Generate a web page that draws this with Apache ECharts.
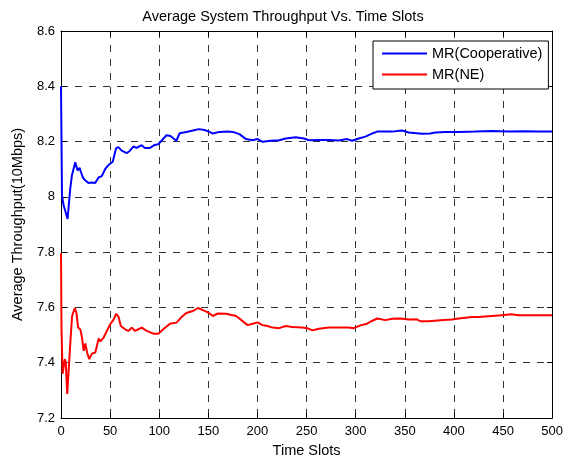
<!DOCTYPE html>
<html><head><meta charset="utf-8">
<script src="https://cdn.jsdelivr.net/npm/echarts@6/dist/echarts.min.js"></script>
<style>html,body{margin:0;padding:0;background:#fff}#c{width:566px;height:463px}</style>
</head><body><div id="c"></div>
<script>
var titleText = 'Average System Throughput Vs. Time Slots';
var xName = 'Time Slots';
var yName = 'Average Throughput(10Mbps)';
var seriesNames = ['MR(Cooperative)', 'MR(NE)'];

var blueX = [0,1,2.6,4.3,6.7,9.4,11.1,14.5,16.9,18.9,20.3,22.3,24.6,28,31.4,34.8,38.2,41.5,44.9,48.3,52.7,56,58.4,61.8,66.8,70.2,73.6,77,82,85.4,90.5,95.5,98.9,102.3,107.4,111.4,117.4,120.8,127.6,134.3,140.4,146.2,151.2,154.6,161.3,169.8,174.9,181.6,188.4,195.1,200.2,205.2,213.6,222.1,228.8,239,247.4,252.4,262.5,272.6,282.8,291.2,296.3,303.1,309.8,316.6,321.9,337,347.2,354,367.5,375.9,381,391.1,404.6,421.5,438.4,455.3,472.2,485.7,500];
var blueY = [8.40,8.005,7.97,7.95,7.92,8.03,8.077,8.125,8.095,8.105,8.09,8.07,8.06,8.05,8.052,8.05,8.07,8.075,8.10,8.115,8.127,8.175,8.18,8.167,8.158,8.167,8.182,8.177,8.187,8.177,8.177,8.188,8.19,8.203,8.223,8.22,8.203,8.23,8.235,8.24,8.245,8.242,8.235,8.229,8.235,8.236,8.235,8.227,8.209,8.205,8.209,8.199,8.203,8.205,8.211,8.216,8.211,8.205,8.206,8.206,8.204,8.209,8.203,8.211,8.218,8.229,8.236,8.236,8.24,8.233,8.228,8.229,8.233,8.235,8.235,8.236,8.238,8.236,8.237,8.236,8.236];

var redX = [0,0.5,1.6,2.9,3.9,4.9,6.3,7,8,9.6,11.3,14,15.7,17.4,19.7,21.4,23.1,24.8,26.5,28.8,31.5,34.9,36.6,38.3,40,43.4,46.7,50.1,53.5,56.2,58.5,60.9,65.3,68.6,72,75.4,78.8,82.2,87.2,94,99.1,104.1,110.9,117.6,122.7,127.6,134.4,139.4,144.5,149.6,154.6,159.7,168.1,178.2,181.6,186.7,190,195.1,200.2,205.2,210.3,215.4,222.1,228.8,235.6,245.7,250.8,255.8,262.5,272.6,282.8,292.9,298,304.8,311.5,316.6,321.9,330.3,337,345.5,354,362.4,365.8,374.3,386.2,398,404.8,418.3,425,438.4,448.5,458.7,465.4,478.9,500];
var redY = [7.796,7.527,7.36,7.353,7.413,7.40,7.287,7.281,7.383,7.479,7.569,7.598,7.58,7.527,7.52,7.49,7.443,7.47,7.437,7.413,7.433,7.437,7.461,7.488,7.477,7.491,7.515,7.539,7.556,7.577,7.567,7.533,7.521,7.515,7.527,7.515,7.521,7.527,7.515,7.505,7.505,7.521,7.541,7.545,7.565,7.58,7.587,7.598,7.59,7.582,7.569,7.578,7.577,7.569,7.56,7.545,7.536,7.541,7.546,7.536,7.533,7.527,7.525,7.533,7.529,7.527,7.525,7.517,7.523,7.527,7.527,7.527,7.525,7.535,7.541,7.551,7.56,7.554,7.559,7.56,7.556,7.557,7.55,7.55,7.554,7.556,7.56,7.565,7.565,7.569,7.572,7.575,7.572,7.572,7.572];

function pairs(xs, ys){ return xs.map(function(x,i){ return [x, ys[i]]; }); }

var font = '"Liberation Sans", Arial, sans-serif';
var gridLine = {show:true, lineStyle:{color:'#333', type:[7,7], width:1}};
var chart = echarts.init(document.getElementById('c'), null, {renderer:'canvas'});
chart.setOption({
  animation:false,
  backgroundColor:'#fff',
  title:{text:titleText, left:'center', top:9, padding:0,
    textStyle:{fontFamily:font, fontSize:14.5, fontWeight:'normal', color:'#000'}},
  legend:{
    data:seriesNames, orient:'vertical', left:373, top:41,
    backgroundColor:'#fff', borderColor:'#000', borderWidth:1,
    padding:[5,6,7,9], itemGap:6, itemWidth:45, itemHeight:14,
    icon:'path://M0,6.5H45V8.5H0Z',
    textStyle:{fontFamily:font, fontSize:14.5, lineHeight:14, color:'#000'}
  },
  grid:{left:61, top:31, right:11, bottom:42, show:false},
  xAxis:[{
    type:'value', min:0, max:500, interval:50,
    name:xName, nameLocation:'middle', nameGap:25,
    nameTextStyle:{fontFamily:font, fontSize:14.5, color:'#000'},
    axisLine:{show:true, lineStyle:{color:'#000', width:1}},
    axisTick:{show:true, inside:true, length:5, lineStyle:{color:'#000'}},
    axisLabel:{fontFamily:font, fontSize:13, color:'#000', margin:7},
    splitLine:gridLine
  },{
    type:'value', position:'top', min:0, max:500, interval:50,
    axisLine:{show:true, onZero:false, lineStyle:{color:'#000', width:1}},
    axisTick:{show:true, inside:true, length:5, lineStyle:{color:'#000'}},
    axisLabel:{show:false}, splitLine:{show:false}
  }],
  yAxis:[{
    type:'value', min:7.2, max:8.6, interval:0.2,
    name:yName, nameLocation:'middle', nameGap:36,
    nameTextStyle:{fontFamily:font, fontSize:14.5, color:'#000'},
    axisLine:{show:true, lineStyle:{color:'#000', width:1}},
    axisTick:{show:true, inside:true, length:5, lineStyle:{color:'#000'}},
    axisLabel:{fontFamily:font, fontSize:13, color:'#000', margin:6,
      formatter:function(v){ return String(parseFloat(v.toFixed(1))); }},
    splitLine:gridLine
  },{
    type:'value', position:'right', min:7.2, max:8.6, interval:0.2,
    axisLine:{show:true, onZero:false, lineStyle:{color:'#000', width:1}},
    axisTick:{show:true, inside:true, length:5, lineStyle:{color:'#000'}},
    axisLabel:{show:false}, splitLine:{show:false}
  }],
  series:[{
    name:seriesNames[0], type:'line', data:pairs(blueX, blueY),
    showSymbol:false, symbol:'none', color:'#0000ff',
    lineStyle:{color:'#0000ff', width:2}, z:3
  },{
    name:seriesNames[1], type:'line', data:pairs(redX, redY),
    showSymbol:false, symbol:'none', color:'#ff0000',
    lineStyle:{color:'#ff0000', width:2}, z:3
  }]
});
</script></body></html>
